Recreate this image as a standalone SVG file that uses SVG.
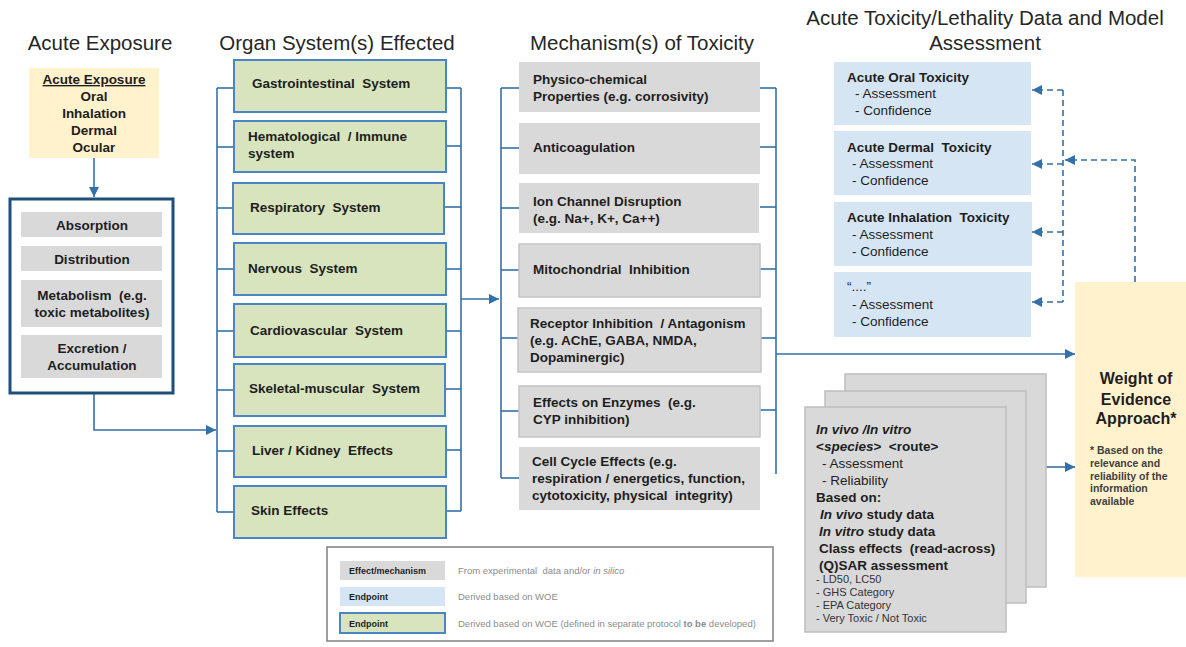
<svg xmlns="http://www.w3.org/2000/svg" width="1186" height="647" viewBox="0 0 1186 647">
<style>
text{font-family:"Liberation Sans",Arial,sans-serif;fill:#1e1e1e;white-space:pre}
.title{font-size:20.5px;fill:#262626}
.b{font-size:13.5px;font-weight:bold}
.n{font-size:13.5px}
.s{font-size:11px;fill:#333}
.fn{font-size:10.5px;font-weight:bold;fill:#404040}
.lg{font-size:9px;font-weight:bold}
.ld{font-size:9.5px;fill:#8c8c8c}
.gray{fill:#d9d9d9}
.grayb{fill:#d9d9d9;stroke:#c4c4c4;stroke-width:1.5}
.green{fill:#d7e4bd;stroke:#4a86c5;stroke-width:2}
.blue{fill:#d6e5f3}
.yellow{fill:#fff2cc}
.con{fill:none;stroke:#3470a8;stroke-width:1.6}
.dash{fill:none;stroke:#3470a8;stroke-width:1.6;stroke-dasharray:6 4}
.card{fill:#d9d9d9;stroke:#bdbdbd;stroke-width:1.5}
</style>
<defs>
<marker id="ah" viewBox="0 0 10 10" refX="10" refY="5" markerWidth="10" markerHeight="10" markerUnits="userSpaceOnUse" orient="auto">
<path d="M0,0 L10,5 L0,10 z" fill="#3470a8"/>
</marker>
</defs>
<rect width="1186" height="647" fill="#ffffff"/>
<g id="titles">
<text class="title" x="100" y="50" text-anchor="middle">Acute Exposure</text>
<text class="title" x="337" y="50" text-anchor="middle">Organ System(s) Effected</text>
<text class="title" x="642" y="50" text-anchor="middle">Mechanism(s) of Toxicity</text>
<text class="title" x="985" y="25" text-anchor="middle" font-size="20.8">Acute Toxicity/Lethality Data and Model</text>
<text class="title" x="985" y="50" text-anchor="middle" font-size="20.8">Assessment</text>
</g>
<g id="connectors">
<line class="con" x1="94" y1="158" x2="94" y2="197" marker-end="url(#ah)"/>
<polyline class="con" points="94,393 94,430 216,430" marker-end="url(#ah)"/>
<line class="con" x1="217" y1="88" x2="217" y2="512"/>
<line class="con" x1="217" y1="88" x2="234" y2="88"/>
<line class="con" x1="217" y1="147" x2="234" y2="147"/>
<line class="con" x1="217" y1="208" x2="233" y2="208"/>
<line class="con" x1="217" y1="269" x2="234" y2="269"/>
<line class="con" x1="217" y1="331" x2="234" y2="331"/>
<line class="con" x1="217" y1="390" x2="234" y2="390"/>
<line class="con" x1="217" y1="451" x2="234" y2="451"/>
<line class="con" x1="217" y1="512" x2="234" y2="512"/>
<line class="con" x1="461" y1="88" x2="461" y2="511"/>
<line class="con" x1="446" y1="88" x2="461" y2="88"/>
<line class="con" x1="446" y1="146" x2="461" y2="146"/>
<line class="con" x1="444" y1="207" x2="461" y2="207"/>
<line class="con" x1="446" y1="269" x2="461" y2="269"/>
<line class="con" x1="446" y1="331" x2="461" y2="331"/>
<line class="con" x1="446" y1="389" x2="461" y2="389"/>
<line class="con" x1="446" y1="450" x2="461" y2="450"/>
<line class="con" x1="446" y1="511" x2="461" y2="511"/>
<line class="con" x1="461" y1="299" x2="499" y2="299" marker-end="url(#ah)"/>
<line class="con" x1="501" y1="88" x2="501" y2="478"/>
<line class="con" x1="501" y1="88" x2="519" y2="88"/>
<line class="con" x1="501" y1="148" x2="519" y2="148"/>
<line class="con" x1="501" y1="208" x2="519" y2="208"/>
<line class="con" x1="501" y1="270" x2="519" y2="270"/>
<line class="con" x1="501" y1="338" x2="519" y2="338"/>
<line class="con" x1="501" y1="411" x2="519" y2="411"/>
<line class="con" x1="501" y1="478" x2="519" y2="478"/>
<line class="con" x1="776" y1="88" x2="776" y2="474"/>
<line class="con" x1="760" y1="88" x2="776" y2="88"/>
<line class="con" x1="760" y1="147" x2="776" y2="147"/>
<line class="con" x1="760" y1="207" x2="776" y2="207"/>
<line class="con" x1="760" y1="269" x2="776" y2="269"/>
<line class="con" x1="760" y1="338" x2="776" y2="338"/>
<line class="con" x1="760" y1="410" x2="776" y2="410"/>
<line class="con" x1="776" y1="354" x2="1075" y2="354" marker-end="url(#ah)"/>
<line class="con" x1="1046" y1="467" x2="1075" y2="467" marker-end="url(#ah)"/>
<line class="dash" x1="1063" y1="90" x2="1063" y2="302"/>
<line class="dash" x1="1063" y1="90" x2="1032" y2="90" marker-end="url(#ah)"/>
<line class="dash" x1="1063" y1="164" x2="1032" y2="164" marker-end="url(#ah)"/>
<line class="dash" x1="1063" y1="232" x2="1032" y2="232" marker-end="url(#ah)"/>
<line class="dash" x1="1063" y1="302" x2="1032" y2="302" marker-end="url(#ah)"/>
<polyline class="dash" points="1135,282 1135,160 1065,160" marker-end="url(#ah)"/>
</g>
<g id="exposure">
<rect class="yellow" x="29" y="68" width="130" height="90"/>
<text class="b" x="94" y="84" text-anchor="middle" text-decoration="underline">Acute Exposure</text>
<text class="b" x="94" y="101" text-anchor="middle">Oral</text>
<text class="b" x="94" y="118" text-anchor="middle">Inhalation</text>
<text class="b" x="94" y="135" text-anchor="middle">Dermal</text>
<text class="b" x="94" y="152" text-anchor="middle">Ocular</text>
</g>
<g id="adme">
<rect x="10" y="199" width="163" height="194" fill="#ffffff" stroke="#1f4e79" stroke-width="3"/>
<rect class="gray" x="21" y="212" width="141" height="25"/>
<text class="b" x="92" y="230" text-anchor="middle">Absorption</text>
<rect class="gray" x="21" y="246" width="141" height="25"/>
<text class="b" x="92" y="264" text-anchor="middle">Distribution</text>
<rect class="gray" x="21" y="280" width="141" height="47"/>
<text class="b" x="92" y="300" text-anchor="middle">Metabolism  (e.g.</text>
<text class="b" x="92" y="317" text-anchor="middle">toxic metabolites)</text>
<rect class="gray" x="21" y="335" width="141" height="43"/>
<text class="b" x="92" y="353" text-anchor="middle">Excretion /</text>
<text class="b" x="92" y="370" text-anchor="middle">Accumulation</text>
</g>
<g id="organ-gi"><rect class="green" x="234" y="60" width="212" height="52"/><text class="b" x="252" y="88">Gastrointestinal  System</text></g>
<g id="organ-hemato"><rect class="green" x="234" y="121" width="212" height="51"/><text class="b" x="248" y="141">Hematological  / Immune</text><text class="b" x="248" y="158">system</text></g>
<g id="organ-resp"><rect class="green" x="233" y="183" width="211" height="51"/><text class="b" x="250" y="212">Respiratory  System</text></g>
<g id="organ-nerv"><rect class="green" x="234" y="243" width="212" height="52"/><text class="b" x="248" y="273">Nervous  System</text></g>
<g id="organ-cardio"><rect class="green" x="234" y="304" width="212" height="53"/><text class="b" x="250" y="335">Cardiovascular  System</text></g>
<g id="organ-skel"><rect class="green" x="234" y="364" width="211" height="52"/><text class="b" x="249" y="393">Skeletal-muscular  System</text></g>
<g id="organ-liver"><rect class="green" x="234" y="426" width="212" height="51"/><text class="b" x="252" y="455">Liver / Kidney  Effects</text></g>
<g id="organ-skin"><rect class="green" x="234" y="486" width="212" height="52"/><text class="b" x="251" y="515">Skin Effects</text></g>
<g id="mech-physico"><rect class="gray" x="519" y="62" width="241" height="50"/><text class="b" x="533" y="84">Physico-chemical</text><text class="b" x="533" y="101">Properties (e.g. corrosivity)</text></g>
<g id="mech-anticoag"><rect class="gray" x="519" y="123" width="241" height="51"/><text class="b" x="533" y="152">Anticoagulation</text></g>
<g id="mech-ion"><rect class="gray" x="519" y="183" width="240" height="50"/><text class="b" x="533" y="206">Ion Channel Disruption</text><text class="b" x="533" y="223">(e.g. Na+, K+, Ca++)</text></g>
<g id="mech-mito"><rect class="grayb" x="519" y="244" width="241" height="53"/><text class="b" x="533" y="274">Mitochondrial  Inhibition</text></g>
<g id="mech-receptor"><rect class="grayb" x="518" y="308" width="243" height="64"/><text class="b" x="530" y="328">Receptor Inhibition  / Antagonism</text><text class="b" x="530" y="345">(e.g. AChE, GABA, NMDA,</text><text class="b" x="530" y="362">Dopaminergic)</text></g>
<g id="mech-enzyme"><rect class="grayb" x="519" y="386" width="241" height="51"/><text class="b" x="533" y="407">Effects on Enzymes  (e.g.</text><text class="b" x="533" y="424">CYP inhibition)</text></g>
<g id="mech-cell"><rect class="gray" x="519" y="447" width="241" height="63"/><text class="b" x="532" y="466">Cell Cycle Effects (e.g.</text><text class="b" x="532" y="483">respiration / energetics, function,</text><text class="b" x="532" y="500">cytotoxicity, physical  integrity)</text></g>
<g id="ep-oral"><rect class="blue" x="834" y="62" width="197" height="63"/><text class="b" x="847" y="82">Acute Oral Toxicity</text><text class="n" x="855" y="98">- Assessment</text><text class="n" x="855" y="115">- Confidence</text></g>
<g id="ep-dermal"><rect class="blue" x="834" y="131" width="197" height="64"/><text class="b" x="847" y="152">Acute Dermal  Toxicity</text><text class="n" x="852" y="168">- Assessment</text><text class="n" x="852" y="185">- Confidence</text></g>
<g id="ep-inhal"><rect class="blue" x="834" y="202" width="198" height="64"/><text class="b" x="847" y="222">Acute Inhalation  Toxicity</text><text class="n" x="852" y="239">- Assessment</text><text class="n" x="852" y="256">- Confidence</text></g>
<g id="ep-other"><rect class="blue" x="834" y="272" width="197" height="65"/><text class="n" x="847" y="291">“....”</text><text class="n" x="852" y="309">- Assessment</text><text class="n" x="852" y="326">- Confidence</text></g>
<g id="woe">
<rect class="yellow" x="1075" y="282" width="111" height="295"/>
<text x="1136" y="384" text-anchor="middle" font-size="16" font-weight="bold">Weight of</text>
<text x="1136" y="405" text-anchor="middle" font-size="16" font-weight="bold">Evidence</text>
<text x="1136" y="424" text-anchor="middle" font-size="16" font-weight="bold">Approach*</text>
<text class="fn" x="1090" y="454">* Based on the</text>
<text class="fn" x="1090" y="467">relevance and</text>
<text class="fn" x="1090" y="480">reliability of the</text>
<text class="fn" x="1090" y="492">information</text>
<text class="fn" x="1090" y="505">available</text>
</g>
<g id="data-cards">
<rect class="card" x="845" y="374" width="201" height="213"/>
<rect class="card" x="825" y="391" width="201" height="212"/>
<rect class="card" x="805" y="407" width="201" height="225"/>
<text class="b" x="816" y="434" font-style="italic">In vivo /In vitro</text>
<text class="b" x="816" y="451">&lt;<tspan font-style="italic">species</tspan>&gt;  &lt;route&gt;</text>
<text class="n" x="822" y="468">- Assessment</text>
<text class="n" x="822" y="485">- Reliability</text>
<text class="b" x="816" y="502">Based on:</text>
<text class="b" x="820" y="519"><tspan font-style="italic">In vivo</tspan> study data</text>
<text class="b" x="819" y="536"><tspan font-style="italic">In vitro</tspan> study data</text>
<text class="b" x="819" y="553">Class effects  (read-across)</text>
<text class="b" x="819" y="570">(Q)SAR assessment</text>
<text class="s" x="816" y="583">- LD50, LC50</text>
<text class="s" x="816" y="596">- GHS Category</text>
<text class="s" x="816" y="609">- EPA Category</text>
<text class="s" x="816" y="622">- Very Toxic / Not Toxic</text>
</g>
<g id="legend">
<rect x="327" y="547" width="446" height="94" fill="#ffffff" stroke="#7f7f7f" stroke-width="1.5"/>
<rect class="gray" x="340" y="561" width="105" height="19"/>
<text class="lg" x="349" y="574">Effect/mechanism</text>
<text class="ld" x="458" y="574">From experimental  data and/or <tspan font-style="italic">in silico</tspan></text>
<rect class="blue" x="340" y="587" width="105" height="19"/>
<text class="lg" x="349" y="600">Endpoint</text>
<text class="ld" x="458" y="600">Derived based on WOE</text>
<rect class="green" x="340" y="613" width="105" height="20" stroke-width="1.5"/>
<text class="lg" x="349" y="627">Endpoint</text>
<text class="ld" x="458" y="627">Derived based on WOE (defined in separate protocol <tspan font-weight="bold">to be</tspan> developed)</text>
</g>
</svg>
